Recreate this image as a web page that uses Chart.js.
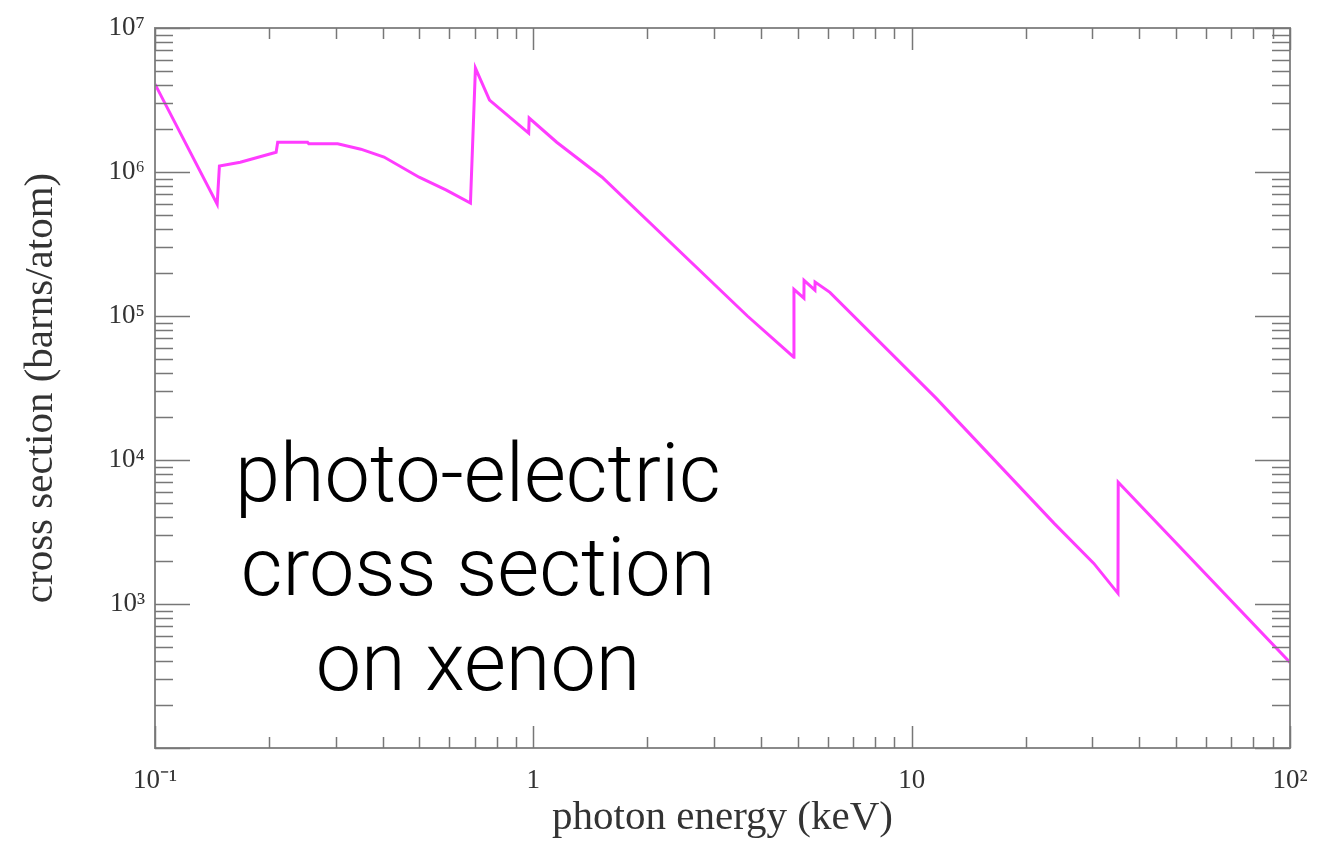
<!DOCTYPE html>
<html>
<head>
<meta charset="utf-8">
<title>photo-electric cross section on xenon</title>
<script src="https://cdn.jsdelivr.net/npm/chart.js@4/dist/chart.umd.min.js"></script>
<style>
    html, body { margin: 0; padding: 0; background: #fff; }
    #wrap { width: 1328px; height: 841px; }
</style>
</head>
<body>
<div id="wrap"><canvas id="chart" width="1328" height="841"></canvas></div>
<script>
    "use strict";

    // photon energy (keV)
    var energy = [0.1, 0.146, 0.148, 0.168, 0.209, 0.211, 0.253, 0.255, 0.304, 0.350, 0.403, 0.499, 0.589, 0.682,
        0.703, 0.766, 0.972, 0.975, 1.153, 1.52, 3.68, 4.88, 4.885, 5.19, 5.195, 5.55, 5.555, 6.08,
        11.6, 23.8, 30.3, 35.1, 35.15, 100];
    // cross section (barns/atom)
    var sigma = [4.08e6, 5.98e5, 1.10e6, 1.17e6, 1.37e6, 1.61e6, 1.61e6, 1.57e6, 1.57e6, 1.44e6, 1.27e6, 9.2e5, 7.48e5, 6.08e5,
        5.27e6, 3.16e6, 1.86e6, 2.37e6, 1.61e6, 9.2e5, 1.0e5, 5.18e4, 1.53e5, 1.33e5, 1.77e5, 1.51e5, 1.72e5, 1.46e5,
        2.69e4, 3630, 1914, 1186, 7000, 393];

    // tick values and labels
    var xTicks = [0.1, 1, 10, 100];
    var xTickLabels = ['10\u207B\u00B9', '1', '10', '10\u00B2'];
    var yTicks = [100, 1e3, 1e4, 1e5, 1e6, 1e7];
    var yTickLabels = ['', '10\u00B3', '10\u2074', '10\u2075', '10\u2076', '10\u2077'];

    var annotation = ['photo-electric', 'cross section', 'on xenon'];

    var serif = '"Liberation Serif", "Times New Roman", serif';

    // Frame + inward ticks on all four sides (xmgrace style)
    var frameTicks = {
        id: 'frameTicks',
        afterDatasetsDraw: function (chart) {
            var ctx = chart.ctx;
            var a = chart.chartArea;
            var xs = chart.scales.x, ys = chart.scales.y;
            ctx.save();
            ctx.strokeStyle = '#8a8a8a';
            ctx.lineWidth = 2;
            ctx.strokeRect(a.left, a.top, a.right - a.left, a.bottom - a.top);

            ctx.strokeStyle = '#777';
            ctx.lineWidth = 1.5;
            ctx.beginPath();
            // x ticks
            for (var d = 0.1; d < 100; d *= 10) {
                for (var k = 1; k <= 10; k++) {
                    var px = Math.round(xs.getPixelForValue(k * d)) + 0.5;
                    var len = (k === 1 || k === 10) ? 22 : 11;
                    ctx.moveTo(px, a.bottom); ctx.lineTo(px, a.bottom - len);
                    ctx.moveTo(px, a.top); ctx.lineTo(px, a.top + len);
                }
            }
            // y ticks
            for (var e = 100; e < 1e7; e *= 10) {
                for (var j = 1; j <= 10; j++) {
                    var py = Math.round(ys.getPixelForValue(j * e)) + 0.5;
                    var ylen = (j === 1 || j === 10) ? 35 : 18;
                    ctx.moveTo(a.left, py); ctx.lineTo(a.left + ylen, py);
                    ctx.moveTo(a.right, py); ctx.lineTo(a.right - ylen, py);
                }
            }
            ctx.stroke();
            ctx.restore();
        },
        afterDraw: function (chart) {
            var ctx = chart.ctx;
            ctx.save();
            ctx.fillStyle = '#000';
            ctx.font = '300 81px Roboto, "Liberation Sans", sans-serif';
            ctx.textAlign = 'center';
            ctx.textBaseline = 'alphabetic';
            var baselines = [501, 595, 690];
            annotation.forEach(function (t, i) {
                ctx.fillText(t, 478, baselines[i]);
            });
            ctx.restore();
        }
    };

    var points = energy.map(function (e, i) { return { x: e, y: sigma[i] }; });

    new Chart(document.getElementById('chart'), {
        type: 'line',
        data: {
            datasets: [{
                data: points,
                borderColor: '#ff3cff',
                borderWidth: 3,
                pointRadius: 0,
                tension: 0,
                fill: false
            }]
        },
        options: {
            responsive: false,
            animation: false,
            events: [],
            layout: { padding: { top: 28, right: 38, left: 0, bottom: 0 } },
            plugins: {
                legend: { display: false },
                tooltip: { enabled: false }
            },
            scales: {
                x: {
                    type: 'logarithmic',
                    min: 0.1,
                    max: 100,
                    grid: { display: false, drawTicks: false },
                    border: { display: false },
                    afterBuildTicks: function (scale) {
                        scale.ticks = xTicks.map(function (v) { return { value: v }; });
                    },
                    afterFit: function (scale) { scale.height = 93; },
                    ticks: {
                        autoSkip: false,
                        maxRotation: 0,
                        padding: 17,
                        color: '#333',
                        font: { family: serif, size: 27 },
                        callback: function (v, i) { return xTickLabels[i]; }
                    },
                    title: {
                        display: true,
                        text: 'photon energy (keV)',
                        color: '#333',
                        font: { family: serif, size: 41, lineHeight: 1.1 },
                        padding: { top: 0, bottom: 0 }
                    }
                },
                y: {
                    type: 'logarithmic',
                    min: 100,
                    max: 1e7,
                    grid: { display: false, drawTicks: false },
                    border: { display: false },
                    afterBuildTicks: function (scale) {
                        scale.ticks = yTicks.map(function (v) { return { value: v }; });
                    },
                    afterFit: function (scale) { scale.width = 155; },
                    ticks: {
                        autoSkip: false,
                        padding: 10,
                        color: '#333',
                        font: { family: serif, size: 27 },
                        callback: function (v, i) { return yTickLabels[i]; }
                    },
                    title: {
                        display: true,
                        text: 'cross section (barns/atom)',
                        color: '#333',
                        font: { family: serif, size: 41, lineHeight: 1.2 },
                        padding: { top: 17, bottom: 0 }
                    }
                }
            }
        },
        plugins: [frameTicks]
    });
</script>
</body>
</html>
